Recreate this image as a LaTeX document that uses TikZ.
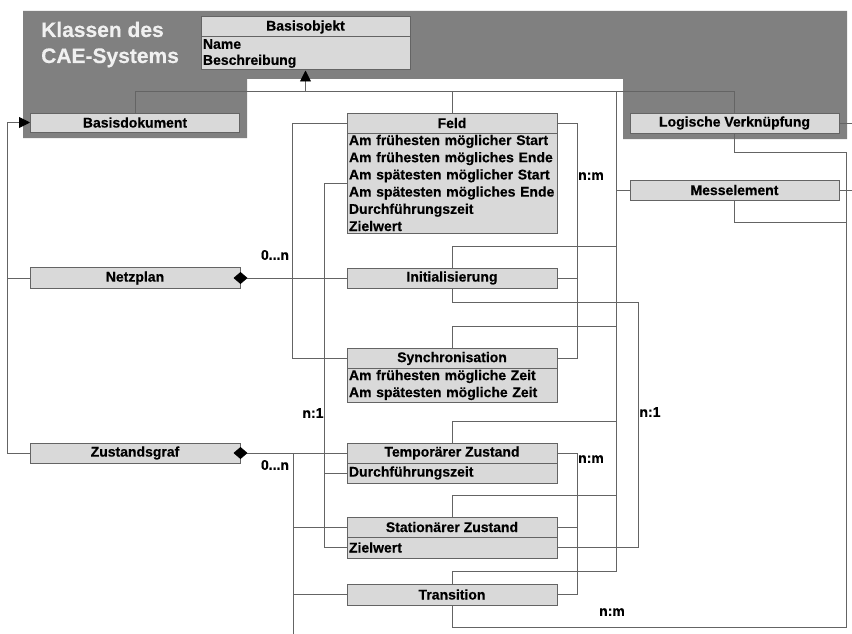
\documentclass[tikz,border=0pt]{standalone}
\usepackage{fontspec}
\setmainfont{Liberation Sans}[BoldFeatures={FakeBold=0.4}]
\usetikzlibrary{arrows.meta,calc}
\pgfdeclarelayer{back}
\pgfdeclarelayer{bg}
\pgfsetlayers{back,bg,main}
\definecolor{darkbg}{RGB}{128,128,128}
\definecolor{boxfill}{RGB}{217,217,217}
\definecolor{boxline}{RGB}{100,100,100}
\definecolor{conncol}{RGB}{100,100,100}
\begin{document}
\begin{tikzpicture}[x=1pt,y=-1pt,
  hdr/.style={draw=boxline, fill=boxfill, line width=1pt, minimum width=210pt, minimum height=20pt, inner sep=0pt, font=\bfseries\fontsize{14}{17}\selectfont},
  body/.style={draw=boxline, fill=boxfill, line width=1pt, minimum width=210pt, text width=206pt, inner xsep=2pt, inner ysep=0pt, align=left, font=\bfseries\fontsize{14}{17.2}\selectfont},
  conn/.style={draw=conncol, line width=0.9pt},
  lbl/.style={font=\bfseries\fontsize{14}{16}\selectfont, inner sep=0pt},
  ttl/.style={font=\bfseries\fontsize{21}{26}\selectfont, text=white!94!black, inner sep=0pt, anchor=base west},
  gentip/.style={-{Triangle[length=11pt,width=11pt,black,fill=black]}},
  comptip/.style={{Diamond[length=14pt,width=12pt,black,fill=black]}-, shorten <=-7pt},
]
\useasboundingbox (0,0) rectangle (852,634);

\begin{pgfonlayer}{back}
\fill[darkbg] (23,11) -- (847,11) -- (847,139) -- (623,139) -- (623,79) -- (247,79) -- (247,138) -- (23,138) -- cycle;
\end{pgfonlayer}

% title
\node[ttl] (t1) at (41,37) {Klassen des};
\node[ttl] (t2) at (41,63) {CAE-Systems};

% Basisobjekt
\node[hdr, minimum width=209pt] (bo) at (305.5,27) {Basisobjekt};
\node[body, minimum width=209pt, text width=205pt, minimum height=33pt, font=\bfseries\fontsize{14}{16}\selectfont] (bob) at (305.5,53.5) {Name\\Beschreibung};

% left column
\node[hdr, minimum width=209pt, minimum height=19pt] (bd) at (135,122.5) {Basisdokument};
\node[hdr, minimum height=21pt] (np) at (135,278) {Netzplan};
\node[hdr] (zg) at (135,453) {Zustandsgraf};

% right column
\node[hdr, minimum width=209pt] (lv) at (734.5,123) {Logische Verknüpfung};
\node[hdr, minimum width=209pt] (me) at (734.5,190) {Messelement};

% middle column
\node[hdr] (feld) at (452,123) {Feld};
\node[body, minimum height=100pt] (feldb) at (452,183) {Am frühesten möglicher Start\\Am frühesten mögliches Ende\\Am spätesten möglicher Start\\Am spätesten mögliches Ende\\Durchführungszeit\\Zielwert};
\node[hdr] (init) at (452,278) {Initialisierung};
\node[hdr, minimum height=19.5pt] (sync) at (452,358.5) {Synchronisation};
\node[body, minimum height=34pt, font=\bfseries\fontsize{14}{17}\selectfont] (syncb) at (452,385) {Am frühesten mögliche Zeit\\Am spätesten mögliche Zeit};
\node[hdr] (temp) at (452,453) {Temporärer Zustand};
\node[body, minimum height=20pt] (tempb) at (452,473) {Durchführungszeit};
\node[hdr] (stat) at (452,527) {Stationärer Zustand};
\node[body, minimum height=21pt] (statb) at (452,547.5) {Zielwert};
\node[hdr, minimum height=21pt] (trans) at (452,594.5) {Transition};

% labels
\node[lbl] (l1) at (275,255) {0...n};
\node[lbl] (l2) at (275,465) {0...n};
\node[lbl] (l3) at (591,176) {n:m};
\node[lbl] (l4) at (313,413) {n:1};
\node[lbl] (l5) at (650,412) {n:1};
\node[lbl] (l6) at (591,459) {n:m};
\node[lbl] (l7) at (612,612) {n:m};

\begin{pgfonlayer}{bg}
% generalisation to Basisobjekt
\coordinate (gy) at (0,91);
\draw[conn] (bd.north) |- (lv.north |- gy) -- (lv.north);
\draw[conn,gentip] (bob.south |- gy) -- (bob.south);
\draw[conn] (feld.north) -- (feld.north |- gy);
\coordinate (bx) at (616,91);
\draw[conn] (bx) -- (616,572);
\draw[conn] (init.north) |- ++(164,-21);
\draw[conn] (sync.north) |- ++(164,-22);
\draw[conn] (temp.north) |- ++(164,-21);
\draw[conn] (stat.north) |- ++(164,-21);
\draw[conn] (trans.north) |- ++(164,-12);
\draw[conn] (me.west) -- (me.west -| bx);

% right loop
\coordinate (edge) at (852,0);
\draw[conn] (lv.south) |- (846,152) -- (846,627) -| (trans.south);
\draw[conn] (me.south) |- (846,222);
\draw[conn] (lv.east) -- (lv.east -| edge);
\draw[conn] (me.east) -- (me.east -| edge);

% left generalisation to Basisdokument
\draw[conn,gentip] (zg.west) -- ++(-22,0) |- (bd.west);
\draw[conn] (np.west) -- ++(-22,0);

% Netzplan composition bus
\draw[conn] (feld.west) -- ++(-54,0) |- (sync.west);

% Zustandsgraf composition bus
\coordinate (zb) at (293,453);
\draw[conn] (zb) -- (293,634);
\draw[conn] (stat.west) -- (stat.west -| zb);
\draw[conn] (trans.west) -- (trans.west -| zb);

% n:m Feld / Init / Sync
\draw[conn] (feld.east) -- ++(20,0) |- (sync.east);
\draw[conn] (init.east) -- ++(20,0);

% n:1 left
\draw[conn] (feldb.west) -- ++(-22,0) |- (statb.west);
\draw[conn] (tempb.west) -- ++(-22,0);

% n:1 right
\draw[conn] (init.south) |- ++(186,14) |- (statb.east);

% n:m lower
\draw[conn] (temp.east) -- ++(20,0) |- (trans.east);
\draw[conn] (stat.east) -- ++(20,0);
\end{pgfonlayer}

% compositions with diamonds on top
\draw[conn,comptip] (np.east) -- (init.west);
\draw[conn,comptip] (zg.east) -- (temp.west);
\end{tikzpicture}
\end{document}
